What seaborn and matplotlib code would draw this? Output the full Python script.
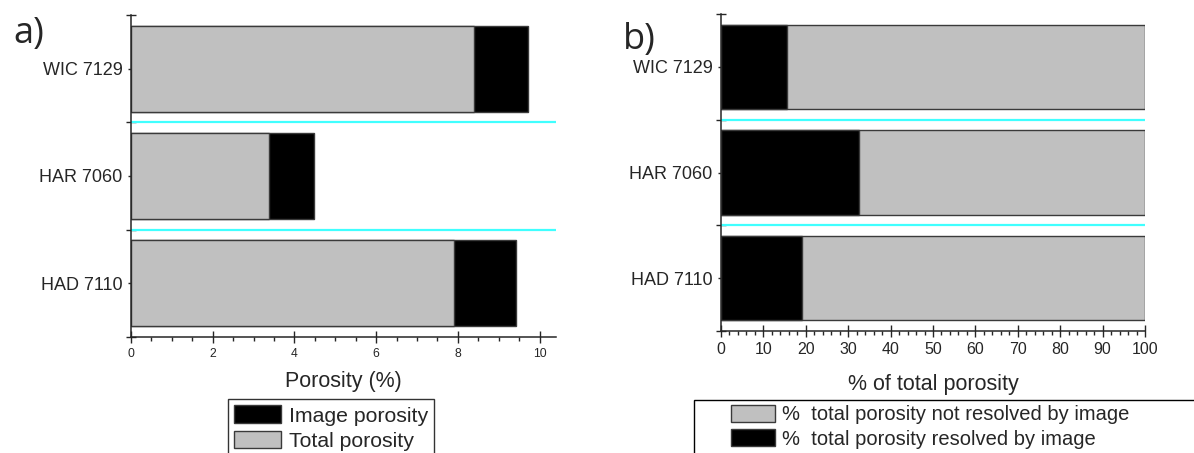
import numpy as np
import pandas as pd
import matplotlib
matplotlib.use("Agg")
import matplotlib.pyplot as plt
from matplotlib.patches import Patch, Rectangle
from matplotlib.ticker import MultipleLocator
import seaborn as sns

# values
samples = ["WIC 7129", "HAR 7060", "HAD 7110"]
total_porosity = [8.40, 3.37, 7.91]      # grey part, panel a (%)
image_porosity = [1.32, 1.11, 1.52]      # black part, panel a (%)
resolved_pct = [15.5, 32.5, 19.0]        # black part, panel b
not_resolved_pct = [84.5, 67.5, 81.0]    # grey part, panel b

GREY = "#c0c0c0"
EDGE = "#3a3a3a"
CYAN = "#40ffff"
W, H = 1194, 453

sns.set_style("ticks")
plt.rcParams["font.family"] = ["Liberation Sans", "DejaVu Sans"]
plt.rcParams["axes.linewidth"] = 1.1

df_a = pd.DataFrame({"sample": samples, "total": total_porosity, "image": image_porosity})
df_a["stack"] = df_a["total"] + df_a["image"]
df_b = pd.DataFrame({"sample": samples, "resolved": resolved_pct, "not_resolved": not_resolved_pct})
df_b["stack"] = df_b["resolved"] + df_b["not_resolved"]

fig = plt.figure(figsize=(W / 100, H / 100), dpi=100)
ax_a = fig.add_axes([131 / W, 116 / H, 425 / W, 322 / H])
ax_b = fig.add_axes([721 / W, 122 / H, 424 / W, 317 / H])

bar_kw = dict(orient="h", width=0.8, saturation=1, edgecolor=EDGE, linewidth=1.0, zorder=2)

# panel a: grey total porosity with image porosity stacked on the end
sns.barplot(data=df_a, x="stack", y="sample", color="black", ax=ax_a, **bar_kw)
sns.barplot(data=df_a, x="total", y="sample", color=GREY, ax=ax_a, **bar_kw)

# panel b: full 100 % bar in grey, resolved share in black
sns.barplot(data=df_b, x="stack", y="sample", color=GREY, ax=ax_b, **bar_kw)
sns.barplot(data=df_b, x="resolved", y="sample", color="black", ax=ax_b, **bar_kw)


def style_axis(ax, xmax, major, minor, tick_size, xlabel, label_y):
    n = len(samples)
    ax.set_xlim(0, xmax)
    ax.set_ylim(n - 0.5, -0.5)
    for b in np.arange(0.5, n - 1):
        ax.axhline(b, color=CYAN, lw=1.6, zorder=1)
    ax.xaxis.set_major_locator(MultipleLocator(major))
    ax.xaxis.set_minor_locator(MultipleLocator(minor))
    ax.set_yticks(np.arange(-0.5, n), minor=True)
    ax.tick_params(axis="x", which="major", direction="inout", length=8, width=1,
                   labelsize=tick_size, pad=4)
    ax.tick_params(axis="x", which="minor", direction="out", length=3, width=1)
    ax.tick_params(axis="y", which="major", direction="out", length=2, width=1,
                   labelsize=13, pad=4)
    ax.tick_params(axis="y", which="minor", direction="inout", length=7, width=1)
    ax.set_xlabel(xlabel, fontsize=15.5)
    ax.xaxis.set_label_coords(0.5, label_y)
    ax.set_ylabel("")
    sns.despine(ax=ax)


style_axis(ax_a, 10.4, 2, 0.5, 8.7, "Porosity (%)", -0.105)
style_axis(ax_b, 100, 10, 2, 11.5, "% of total porosity", -0.135)

fig.text(13 / W, 1 - 43 / H, "a)", fontsize=26, family=["Open Sans", "DejaVu Sans"], va="baseline")
fig.text(623 / W, 1 - 49 / H, "b)", fontsize=26, family=["Open Sans", "DejaVu Sans"], va="baseline")

leg_kw = dict(handlelength=2.2, handleheight=0.9, handletextpad=0.35,
              labelspacing=0.25, borderpad=0.3, borderaxespad=0)

handles_a = [Patch(facecolor="black", edgecolor=EDGE, label="Image porosity"),
             Patch(facecolor=GREY, edgecolor=EDGE, label="Total porosity")]
leg_a = fig.legend(handles=handles_a, loc="upper left", bbox_to_anchor=(228 / W, 1 - 399 / H),
                   frameon=True, fancybox=False, edgecolor="black", fontsize=15.3, **leg_kw)
leg_a.get_frame().set_linewidth(1.0)

handles_b = [Patch(facecolor=GREY, edgecolor=EDGE, label="%  total porosity not resolved by image"),
             Patch(facecolor="black", edgecolor=EDGE, label="%  total porosity resolved by image")]
fig.legend(handles=handles_b, loc="upper left", bbox_to_anchor=(725 / W, 1 - 399 / H),
           frameon=False, fontsize=14.5, **leg_kw)
fig.patches.append(Rectangle((694 / W, -0.05), 0.5, 0.05 + 1 - 400 / H, transform=fig.transFigure,
                             facecolor="none", edgecolor="black", lw=1.0))

fig.savefig("out.png", dpi=100)
